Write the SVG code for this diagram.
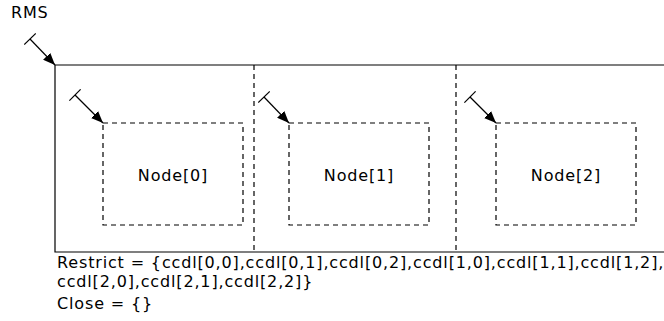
<svg xmlns="http://www.w3.org/2000/svg" width="664" height="321" viewBox="0 0 664 321">
  <style>
    .txt { font-family: "DejaVu Sans", "Liberation Sans", sans-serif; font-size: 16px; fill: #000; letter-spacing: 0.85px; }
    .frame { fill: none; stroke: #000; stroke-width: 1.2; }
    .dash { fill: none; stroke: #000; stroke-width: 1.2; stroke-dasharray: 5 4; }
    .ptr { fill: none; stroke: #000; stroke-width: 1.2; marker-start: url(#tick); marker-end: url(#head); }
  </style>
  <defs>
    <marker id="head" viewBox="0 0 12 10" refX="12" refY="5" markerWidth="12" markerHeight="10" markerUnits="userSpaceOnUse" orient="auto">
      <path d="M0,0 L12,5 L0,10 Z" fill="#000"/>
    </marker>
    <marker id="tick" viewBox="0 0 2 16" refX="1" refY="8" markerWidth="2" markerHeight="16" markerUnits="userSpaceOnUse" orient="auto">
      <line x1="1" y1="0" x2="1" y2="16" stroke="#000" stroke-width="1.2"/>
    </marker>
  </defs>

  <!-- RMS container -->
  <g id="rms">
    <text class="txt" x="11" y="18">RMS</text>
    <path class="frame" d="M664,65 H55 V252 H664"/>
    <line class="dash" x1="254" y1="65" x2="254" y2="252"/>
    <line class="dash" x1="456" y1="65" x2="456" y2="252"/>
  </g>

  <g id="node0">
    <rect class="dash" x="103" y="123" width="140" height="102"/>
    <text class="txt" x="173" y="181" text-anchor="middle">Node[0]</text>
  </g>
  <g id="node1">
    <rect class="dash" x="289" y="123" width="140" height="102"/>
    <text class="txt" x="359" y="181" text-anchor="middle">Node[1]</text>
  </g>
  <g id="node2">
    <rect class="dash" x="496" y="123" width="140" height="102"/>
    <text class="txt" x="566" y="181" text-anchor="middle">Node[2]</text>
  </g>

  <!-- pointer connectors -->
  <g id="connectors">
    <line class="ptr" x1="30" y1="39" x2="55" y2="65"/>
    <line class="ptr" x1="75" y1="95" x2="103" y2="123"/>
    <line class="ptr" x1="264" y1="97" x2="289" y2="123"/>
    <line class="ptr" x1="470" y1="97" x2="496" y2="123"/>
  </g>

  <!-- sets -->
  <g id="sets">
    <text class="txt" x="57" y="268">Restrict = {ccdl[0,0],ccdl[0,1],ccdl[0,2],ccdl[1,0],ccdl[1,1],ccdl[1,2],</text>
    <text class="txt" x="57" y="287">ccdl[2,0],ccdl[2,1],ccdl[2,2]}</text>
    <text class="txt" x="57" y="309">Close = {}</text>
  </g>
</svg>
